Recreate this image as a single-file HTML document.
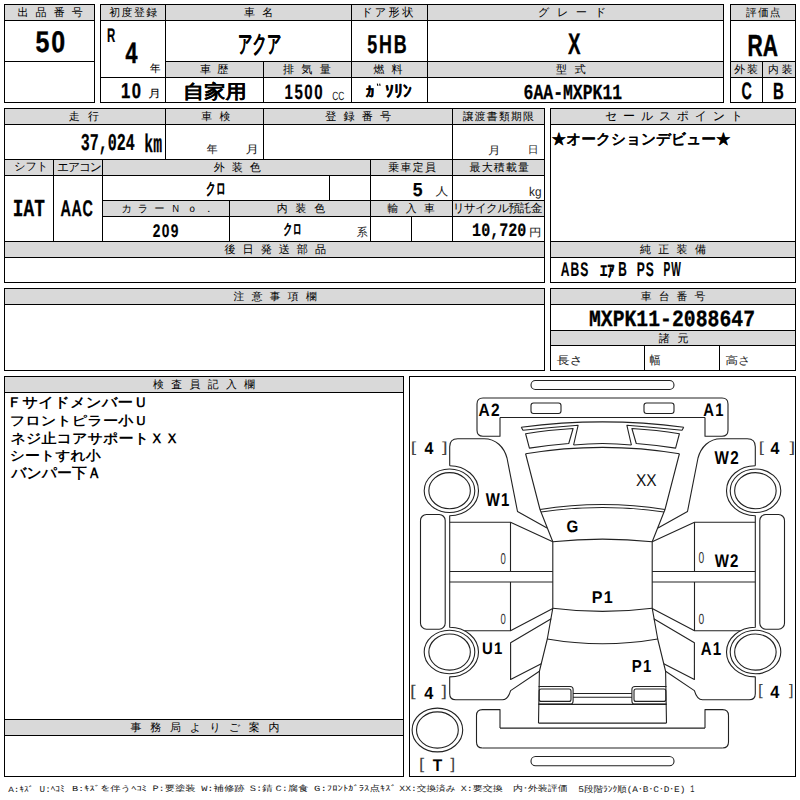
<!DOCTYPE html>
<html><head><meta charset="utf-8"><style>
html,body{margin:0;padding:0;background:#fff;width:800px;height:800px;overflow:hidden}
svg{display:block;font-family:"Liberation Sans",sans-serif}
text{text-rendering:geometricPrecision}
.h{fill:#2a2a2a;font-size:12px}
.b{fill:#000;font-weight:bold}
</style></head><body>
<svg width="800" height="800" viewBox="0 0 800 800">
<g fill="#d9d9d9" shape-rendering="crispEdges"><rect x="5" y="5" width="89" height="15"/><rect x="101" y="5" width="622" height="15"/><rect x="166" y="62" width="557" height="15"/><rect x="731" y="5" width="64" height="15"/><rect x="731" y="62" width="64" height="15"/><rect x="5" y="109" width="539" height="15"/><rect x="5" y="160" width="539" height="15"/><rect x="103" y="201" width="441" height="15"/><rect x="5" y="242" width="539" height="15"/><rect x="551" y="109" width="244" height="15"/><rect x="551" y="242" width="244" height="15"/><rect x="5" y="289" width="539" height="15"/><rect x="551" y="289" width="244" height="15"/><rect x="551" y="331" width="244" height="14"/><rect x="5" y="377" width="398" height="15"/><rect x="5" y="720" width="398" height="15"/></g>
<g fill="#000" shape-rendering="crispEdges"><rect x="4" y="4" width="91" height="1"/><rect x="4" y="102" width="91" height="1"/><rect x="4" y="4" width="1" height="99"/><rect x="94" y="4" width="1" height="99"/><rect x="4" y="20" width="91" height="1"/><rect x="4" y="61" width="91" height="1"/><rect x="100" y="4" width="624" height="1"/><rect x="100" y="102" width="624" height="1"/><rect x="100" y="4" width="1" height="99"/><rect x="723" y="4" width="1" height="99"/><rect x="100" y="20" width="624" height="1"/><rect x="165" y="4" width="1" height="99"/><rect x="351" y="4" width="1" height="99"/><rect x="427" y="4" width="1" height="99"/><rect x="165" y="61" width="559" height="1"/><rect x="100" y="77" width="624" height="1"/><rect x="263" y="61" width="1" height="42"/><rect x="730" y="4" width="66" height="1"/><rect x="730" y="102" width="66" height="1"/><rect x="730" y="4" width="1" height="99"/><rect x="795" y="4" width="1" height="99"/><rect x="730" y="20" width="66" height="1"/><rect x="730" y="61" width="66" height="1"/><rect x="730" y="77" width="66" height="1"/><rect x="762" y="61" width="1" height="42"/><rect x="4" y="108" width="541" height="1"/><rect x="4" y="282" width="541" height="1"/><rect x="4" y="108" width="1" height="175"/><rect x="544" y="108" width="1" height="175"/><rect x="4" y="124" width="541" height="1"/><rect x="165" y="108" width="1" height="52"/><rect x="263" y="108" width="1" height="52"/><rect x="452" y="108" width="1" height="52"/><rect x="4" y="159" width="541" height="1"/><rect x="4" y="175" width="541" height="1"/><rect x="53" y="159" width="1" height="83"/><rect x="102" y="159" width="1" height="83"/><rect x="370" y="159" width="1" height="83"/><rect x="452" y="159" width="1" height="83"/><rect x="102" y="200" width="443" height="1"/><rect x="102" y="216" width="443" height="1"/><rect x="229" y="200" width="1" height="42"/><rect x="329" y="175" width="1" height="26"/><rect x="411" y="216" width="1" height="26"/><rect x="4" y="241" width="541" height="1"/><rect x="4" y="257" width="541" height="1"/><rect x="550" y="108" width="246" height="1"/><rect x="550" y="282" width="246" height="1"/><rect x="550" y="108" width="1" height="175"/><rect x="795" y="108" width="1" height="175"/><rect x="550" y="124" width="246" height="1"/><rect x="550" y="241" width="246" height="1"/><rect x="550" y="257" width="246" height="1"/><rect x="4" y="288" width="541" height="1"/><rect x="4" y="370" width="541" height="1"/><rect x="4" y="288" width="1" height="83"/><rect x="544" y="288" width="1" height="83"/><rect x="4" y="304" width="541" height="1"/><rect x="550" y="288" width="246" height="1"/><rect x="550" y="370" width="246" height="1"/><rect x="550" y="288" width="1" height="83"/><rect x="795" y="288" width="1" height="83"/><rect x="550" y="304" width="246" height="1"/><rect x="550" y="330" width="246" height="1"/><rect x="550" y="345" width="246" height="1"/><rect x="644" y="345" width="1" height="26"/><rect x="719" y="345" width="1" height="26"/><rect x="4" y="376" width="400" height="1"/><rect x="4" y="776" width="400" height="1"/><rect x="4" y="376" width="1" height="401"/><rect x="403" y="376" width="1" height="401"/><rect x="4" y="392" width="400" height="1"/><rect x="4" y="719" width="400" height="1"/><rect x="4" y="735" width="400" height="1"/><rect x="409" y="376" width="387" height="1"/><rect x="409" y="776" width="387" height="1"/><rect x="409" y="376" width="1" height="401"/><rect x="795" y="376" width="1" height="401"/></g>
<g fill="none" stroke="#222" stroke-width="1.1" stroke-linejoin="round"><path d="M483 398 Q477 398 477 404 V430.25 Q477 436.25 483 436.25 H500 V417.5"/><rect x="531" y="403" width="30" height="10.5" rx="2.5"/><path d="M521.25 427.3 L523 430.3 Q550 427.5 578.1 425.3 L573.6 445"/><path d="M525.6 433.75 Q548 430 573.1 428.5 L568.75 443.5 Q548 445 529.4 448.1 Z"/><path d="M449.7 465.7 V446.75 Q449.7 438.75 457.7 438.75 H484 C496 438.75 504 447 507 458 L517.5 511.5 L547 528"/><path d="M449.7 465.7 A28.8 25 0 0 1 449.7 515.7 V627.2 A28.8 24.85 0 0 1 449.7 676.9 V693.7 Q449.7 699.7 455.7 699.7 H502.5 Q508 699.7 510.6 690.6 L539.4 671.25"/><ellipse cx="449.5" cy="490.7" rx="25.3" ry="21.75"/><ellipse cx="449.6" cy="490.7" rx="20.75" ry="18.1"/><ellipse cx="449.5" cy="652.05" rx="25.3" ry="21.75"/><ellipse cx="449.6" cy="652.05" rx="20.75" ry="18.1"/><rect x="420.5" y="514.5" width="24.7" height="114.7" rx="6"/><path d="M525.6 453.75 L540 509.5 L552.8 541.7 V608.2 L547.3 639 L539.4 671.25 L538.5 723.1"/><path d="M449.7 522.2 H510.5 L552.8 541.7"/><path d="M510.5 522.2 V571.5 M510.5 582 V631"/><path d="M449.7 571.5 H552.8 M449.7 582 H552.8"/><path d="M464.5 630.8 H510.5 L552.8 608.4"/><path d="M551.25 618.75 L510.6 642.8 V679.4 L541.25 663.75"/><path d="M500 728.1 V709.6 H482.5 Q476.5 709.6 476.5 715.6 V742 Q476.5 748 482.5 748"/><path d="M538.5 686.5 H570 Q573.1 686.5 573.1 689.5 V701 Q573.1 704.1 570 704.1 H538.5"/><rect x="539.2" y="689" width="31.8" height="12.4" rx="2"/><g transform="translate(1205.0,0) scale(-1,1)"><path d="M483 398 Q477 398 477 404 V430.25 Q477 436.25 483 436.25 H500 V417.5"/><rect x="531" y="403" width="30" height="10.5" rx="2.5"/><path d="M521.25 427.3 L523 430.3 Q550 427.5 578.1 425.3 L573.6 445"/><path d="M525.6 433.75 Q548 430 573.1 428.5 L568.75 443.5 Q548 445 529.4 448.1 Z"/><path d="M449.7 465.7 V446.75 Q449.7 438.75 457.7 438.75 H484 C496 438.75 504 447 507 458 L517.5 511.5 L547 528"/><path d="M449.7 465.7 A28.8 25 0 0 1 449.7 515.7 V627.2 A28.8 24.85 0 0 1 449.7 676.9 V693.7 Q449.7 699.7 455.7 699.7 H502.5 Q508 699.7 510.6 690.6 L539.4 671.25"/><ellipse cx="449.5" cy="490.7" rx="25.3" ry="21.75"/><ellipse cx="449.6" cy="490.7" rx="20.75" ry="18.1"/><ellipse cx="449.5" cy="652.05" rx="25.3" ry="21.75"/><ellipse cx="449.6" cy="652.05" rx="20.75" ry="18.1"/><rect x="420.5" y="514.5" width="24.7" height="114.7" rx="6"/><path d="M525.6 453.75 L540 509.5 L552.8 541.7 V608.2 L547.3 639 L539.4 671.25 L538.5 723.1"/><path d="M449.7 522.2 H510.5 L552.8 541.7"/><path d="M510.5 522.2 V571.5 M510.5 582 V631"/><path d="M449.7 571.5 H552.8 M449.7 582 H552.8"/><path d="M464.5 630.8 H510.5 L552.8 608.4"/><path d="M551.25 618.75 L510.6 642.8 V679.4 L541.25 663.75"/><path d="M500 728.1 V709.6 H482.5 Q476.5 709.6 476.5 715.6 V742 Q476.5 748 482.5 748"/><path d="M538.5 686.5 H570 Q573.1 686.5 573.1 689.5 V701 Q573.1 704.1 570 704.1 H538.5"/><rect x="539.2" y="689" width="31.8" height="12.4" rx="2"/></g><rect x="531" y="380.5" width="143" height="9" rx="4.5"/><rect x="531" y="756.5" width="143" height="9.3" rx="4.6"/><path d="M521.25 427.3 Q602.5 416.5 683.75 427.3"/><path d="M525.6 453.75 Q602.5 440.9 679.4 453.75"/><path d="M540 509.5 Q602.5 499.5 665 509.5"/><path d="M541 512 Q602.5 503 664 512"/><path d="M552.8 541.7 Q602.5 536.6 652.2 541.7"/><path d="M552.8 608.2 Q602.5 614.6 652.2 608.2"/><path d="M547.3 639 Q602.5 648.6 657.7 639"/><ellipse cx="437.4" cy="730" rx="25.3" ry="21.9"/><ellipse cx="437.4" cy="730" rx="20.9" ry="18.1"/><path d="M483 398 H722 M500 417.5 H705 M573.6 445 Q602.5 442 631.4 445 M538.5 723.1 H666.5 M482.5 748 H722.5 M500 728.1 H705 M573.1 693.5 H631.9 M573.1 697.25 H631.9 M538.5 704.4 H666.5"/></g>
<g><path d="M377.3 83.6 L377.9 85.9 M379.6 83.6 L380.1 85.9" stroke="#000" stroke-width="1.1"/><text transform="matrix(0.11033 0 0 0.11033 17.463 16.434)" font-size="100" font-weight="normal" fill="#000" stroke="#000" stroke-width="0.25" vector-effect="non-scaling-stroke" stroke-linejoin="round" font-family="'Liberation Sans',sans-serif">出</text><text transform="matrix(0.11033 0 0 0.11033 35.570 16.434)" font-size="100" font-weight="normal" fill="#000" stroke="#000" stroke-width="0.25" vector-effect="non-scaling-stroke" stroke-linejoin="round" font-family="'Liberation Sans',sans-serif">品</text><text transform="matrix(0.11033 0 0 0.11033 53.677 16.434)" font-size="100" font-weight="normal" fill="#000" stroke="#000" stroke-width="0.25" vector-effect="non-scaling-stroke" stroke-linejoin="round" font-family="'Liberation Sans',sans-serif">番</text><text transform="matrix(0.11033 0 0 0.11033 71.784 16.434)" font-size="100" font-weight="normal" fill="#000" stroke="#000" stroke-width="0.25" vector-effect="non-scaling-stroke" stroke-linejoin="round" font-family="'Liberation Sans',sans-serif">号</text><text transform="matrix(0.25000 0 0 0.30000 35.400 51.850)" font-size="100" font-weight="bold" fill="#000" stroke="#000" stroke-width="1.3" vector-effect="non-scaling-stroke" stroke-linejoin="round" font-family="'Liberation Sans',sans-serif" letter-spacing="8" xml:space="preserve">50</text><text transform="matrix(0.10856 0 0 0.10856 109.208 16.481)" font-size="100" font-weight="normal" fill="#000" stroke="#000" stroke-width="0.25" vector-effect="non-scaling-stroke" stroke-linejoin="round" font-family="'Liberation Sans',sans-serif">初</text><text transform="matrix(0.10856 0 0 0.10856 121.587 16.481)" font-size="100" font-weight="normal" fill="#000" stroke="#000" stroke-width="0.25" vector-effect="non-scaling-stroke" stroke-linejoin="round" font-family="'Liberation Sans',sans-serif">度</text><text transform="matrix(0.10856 0 0 0.10856 133.966 16.481)" font-size="100" font-weight="normal" fill="#000" stroke="#000" stroke-width="0.25" vector-effect="non-scaling-stroke" stroke-linejoin="round" font-family="'Liberation Sans',sans-serif">登</text><text transform="matrix(0.10856 0 0 0.10856 146.345 16.481)" font-size="100" font-weight="normal" fill="#000" stroke="#000" stroke-width="0.25" vector-effect="non-scaling-stroke" stroke-linejoin="round" font-family="'Liberation Sans',sans-serif">録</text><text transform="matrix(0.11429 0 0 0.19565 106.914 42.300)" font-size="100" font-weight="bold" fill="#000" stroke="#000" stroke-width="1.2" vector-effect="non-scaling-stroke" stroke-linejoin="round" font-family="'Liberation Sans',sans-serif" xml:space="preserve">R</text><text transform="matrix(0.21481 0 0 0.29275 125.485 63.100)" font-size="100" font-weight="bold" fill="#000" stroke="#000" stroke-width="1.8" vector-effect="non-scaling-stroke" stroke-linejoin="round" font-family="'Liberation Sans',sans-serif" xml:space="preserve">4</text><text transform="matrix(0.10532 0 0 0.10761 149.889 72.109)" font-size="100" font-weight="normal" fill="#000" stroke="#000" stroke-width="0.6" vector-effect="non-scaling-stroke" stroke-linejoin="round" font-family="'Liberation Sans',sans-serif" xml:space="preserve">年</text><text transform="matrix(0.16606 0 0 0.21268 121.104 97.987)" font-size="100" font-weight="bold" fill="#000" stroke="#000" stroke-width="1.6" vector-effect="non-scaling-stroke" stroke-linejoin="round" font-family="'Liberation Sans',sans-serif" letter-spacing="8" xml:space="preserve">10</text><text transform="matrix(0.12778 0 0 0.10787 148.133 97.406)" font-size="100" font-weight="normal" fill="#000" stroke="#000" stroke-width="0.6" vector-effect="non-scaling-stroke" stroke-linejoin="round" font-family="'Liberation Sans',sans-serif" xml:space="preserve">月</text><text transform="matrix(0.10914 0 0 0.10914 243.907 16.365)" font-size="100" font-weight="normal" fill="#000" stroke="#000" stroke-width="0.25" vector-effect="non-scaling-stroke" stroke-linejoin="round" font-family="'Liberation Sans',sans-serif">車</text><text transform="matrix(0.10914 0 0 0.10914 262.207 16.365)" font-size="100" font-weight="normal" fill="#000" stroke="#000" stroke-width="0.25" vector-effect="non-scaling-stroke" stroke-linejoin="round" font-family="'Liberation Sans',sans-serif">名</text><text transform="matrix(0.14227 0 0 0.24318 237.912 51.545)" font-size="100" font-weight="bold" fill="#000" stroke="#000" stroke-width="1.1" vector-effect="non-scaling-stroke" stroke-linejoin="round" font-family="'Liberation Sans',sans-serif" xml:space="preserve">アクア</text><text transform="matrix(0.11033 0 0 0.11033 199.904 73.461)" font-size="100" font-weight="normal" fill="#000" stroke="#000" stroke-width="0.25" vector-effect="non-scaling-stroke" stroke-linejoin="round" font-family="'Liberation Sans',sans-serif">車</text><text transform="matrix(0.11033 0 0 0.11033 217.284 73.461)" font-size="100" font-weight="normal" fill="#000" stroke="#000" stroke-width="0.25" vector-effect="non-scaling-stroke" stroke-linejoin="round" font-family="'Liberation Sans',sans-serif">歴</text><text transform="matrix(0.21165 0 0 0.18800 183.060 98.330)" font-size="100" font-weight="bold" fill="#000" stroke="#000" stroke-width="0.7" vector-effect="non-scaling-stroke" stroke-linejoin="round" font-family="'Liberation Sans',sans-serif" xml:space="preserve">自家用</text><text transform="matrix(0.11154 0 0 0.11154 283.013 73.392)" font-size="100" font-weight="normal" fill="#000" stroke="#000" stroke-width="0.25" vector-effect="non-scaling-stroke" stroke-linejoin="round" font-family="'Liberation Sans',sans-serif">排</text><text transform="matrix(0.11154 0 0 0.11154 301.340 73.392)" font-size="100" font-weight="normal" fill="#000" stroke="#000" stroke-width="0.25" vector-effect="non-scaling-stroke" stroke-linejoin="round" font-family="'Liberation Sans',sans-serif">気</text><text transform="matrix(0.11154 0 0 0.11154 319.667 73.392)" font-size="100" font-weight="normal" fill="#000" stroke="#000" stroke-width="0.25" vector-effect="non-scaling-stroke" stroke-linejoin="round" font-family="'Liberation Sans',sans-serif">量</text><text transform="matrix(0.15062 0 0 0.20845 284.596 99.292)" font-size="100" font-weight="bold" fill="#000" stroke="#000" stroke-width="1.0" vector-effect="non-scaling-stroke" stroke-linejoin="round" font-family="'Liberation Sans',sans-serif" letter-spacing="10" xml:space="preserve">1500</text><text transform="matrix(0.08370 0 0 0.11972 332.281 100.380)" font-size="100" font-weight="normal" fill="#222" font-family="'Liberation Sans',sans-serif" xml:space="preserve">CC</text><text transform="matrix(0.11278 0 0 0.11278 361.178 16.096)" font-size="100" font-weight="normal" fill="#000" stroke="#000" stroke-width="0.25" vector-effect="non-scaling-stroke" stroke-linejoin="round" font-family="'Liberation Sans',sans-serif">ド</text><text transform="matrix(0.11278 0 0 0.11278 374.839 16.096)" font-size="100" font-weight="normal" fill="#000" stroke="#000" stroke-width="0.25" vector-effect="non-scaling-stroke" stroke-linejoin="round" font-family="'Liberation Sans',sans-serif">ア</text><text transform="matrix(0.11278 0 0 0.11278 388.500 16.096)" font-size="100" font-weight="normal" fill="#000" stroke="#000" stroke-width="0.25" vector-effect="non-scaling-stroke" stroke-linejoin="round" font-family="'Liberation Sans',sans-serif">形</text><text transform="matrix(0.11278 0 0 0.11278 402.161 16.096)" font-size="100" font-weight="normal" fill="#000" stroke="#000" stroke-width="0.25" vector-effect="non-scaling-stroke" stroke-linejoin="round" font-family="'Liberation Sans',sans-serif">状</text><text transform="matrix(0.17911 0 0 0.26000 367.313 52.540)" font-size="100" font-weight="bold" fill="#000" stroke="#000" stroke-width="1.2" vector-effect="non-scaling-stroke" stroke-linejoin="round" font-family="'Liberation Sans',sans-serif" letter-spacing="10" xml:space="preserve">5HB</text><text transform="matrix(0.10914 0 0 0.10914 373.516 73.365)" font-size="100" font-weight="normal" fill="#000" stroke="#000" stroke-width="0.25" vector-effect="non-scaling-stroke" stroke-linejoin="round" font-family="'Liberation Sans',sans-serif">燃</text><text transform="matrix(0.10914 0 0 0.10914 391.398 73.365)" font-size="100" font-weight="normal" fill="#000" stroke="#000" stroke-width="0.25" vector-effect="non-scaling-stroke" stroke-linejoin="round" font-family="'Liberation Sans',sans-serif">料</text><text transform="matrix(0.17857 0 0 0.14634 365.464 97.061)" font-size="100" font-weight="bold" fill="#000" stroke="#000" stroke-width="0.8" vector-effect="non-scaling-stroke" stroke-linejoin="round" font-family="'Liberation Sans',sans-serif" xml:space="preserve">ｶ</text><text transform="matrix(0.17797 0 0 0.17024 385.010 96.579)" font-size="100" font-weight="bold" fill="#000" stroke="#000" stroke-width="0.8" vector-effect="non-scaling-stroke" stroke-linejoin="round" font-family="'Liberation Sans',sans-serif" xml:space="preserve">ｿﾘﾝ</text><text transform="matrix(0.11207 0 0 0.11207 538.004 15.974)" font-size="100" font-weight="normal" fill="#000" stroke="#000" stroke-width="0.25" vector-effect="non-scaling-stroke" stroke-linejoin="round" font-family="'Liberation Sans',sans-serif">グ</text><text transform="matrix(0.11207 0 0 0.11207 556.878 15.974)" font-size="100" font-weight="normal" fill="#000" stroke="#000" stroke-width="0.25" vector-effect="non-scaling-stroke" stroke-linejoin="round" font-family="'Liberation Sans',sans-serif">レ</text><text transform="matrix(0.11207 0 0 0.11207 575.751 15.974)" font-size="100" font-weight="normal" fill="#000" stroke="#000" stroke-width="0.25" vector-effect="non-scaling-stroke" stroke-linejoin="round" font-family="'Liberation Sans',sans-serif">ー</text><text transform="matrix(0.11207 0 0 0.11207 594.625 15.974)" font-size="100" font-weight="normal" fill="#000" stroke="#000" stroke-width="0.25" vector-effect="non-scaling-stroke" stroke-linejoin="round" font-family="'Liberation Sans',sans-serif">ド</text><text transform="matrix(0.18730 0 0 0.29710 568.075 54.150)" font-size="100" font-weight="bold" fill="#000" stroke="#000" stroke-width="1.3" vector-effect="non-scaling-stroke" stroke-linejoin="round" font-family="'Liberation Sans',sans-serif" xml:space="preserve">X</text><text transform="matrix(0.10914 0 0 0.10914 556.016 73.420)" font-size="100" font-weight="normal" fill="#000" stroke="#000" stroke-width="0.25" vector-effect="non-scaling-stroke" stroke-linejoin="round" font-family="'Liberation Sans',sans-serif">型</text><text transform="matrix(0.10914 0 0 0.10914 574.698 73.420)" font-size="100" font-weight="normal" fill="#000" stroke="#000" stroke-width="0.25" vector-effect="non-scaling-stroke" stroke-linejoin="round" font-family="'Liberation Sans',sans-serif">式</text><text transform="matrix(0.16407 0 0 0.21324 523.616 98.587)" font-size="100" font-weight="bold" fill="#000" stroke="#000" stroke-width="1.2" vector-effect="non-scaling-stroke" stroke-linejoin="round" font-family="'Liberation Mono',monospace" xml:space="preserve">6AA-MXPK11</text><text transform="matrix(0.10684 0 0 0.10684 746.018 16.179)" font-size="100" font-weight="normal" fill="#000" stroke="#000" stroke-width="0.25" vector-effect="non-scaling-stroke" stroke-linejoin="round" font-family="'Liberation Sans',sans-serif">評</text><text transform="matrix(0.10684 0 0 0.10684 757.925 16.179)" font-size="100" font-weight="normal" fill="#000" stroke="#000" stroke-width="0.25" vector-effect="non-scaling-stroke" stroke-linejoin="round" font-family="'Liberation Sans',sans-serif">価</text><text transform="matrix(0.10684 0 0 0.10684 769.832 16.179)" font-size="100" font-weight="normal" fill="#000" stroke="#000" stroke-width="0.25" vector-effect="non-scaling-stroke" stroke-linejoin="round" font-family="'Liberation Sans',sans-serif">点</text><text transform="matrix(0.21111 0 0 0.30435 747.583 55.750)" font-size="100" font-weight="bold" fill="#000" stroke="#000" stroke-width="1.5" vector-effect="non-scaling-stroke" stroke-linejoin="round" font-family="'Liberation Sans',sans-serif" xml:space="preserve">RA</text><text transform="matrix(0.10914 0 0 0.10914 734.307 73.365)" font-size="100" font-weight="normal" fill="#000" stroke="#000" stroke-width="0.25" vector-effect="non-scaling-stroke" stroke-linejoin="round" font-family="'Liberation Sans',sans-serif">外</text><text transform="matrix(0.10914 0 0 0.10914 747.116 73.365)" font-size="100" font-weight="normal" fill="#000" stroke="#000" stroke-width="0.25" vector-effect="non-scaling-stroke" stroke-linejoin="round" font-family="'Liberation Sans',sans-serif">装</text><text transform="matrix(0.10741 0 0 0.10741 768.016 73.332)" font-size="100" font-weight="normal" fill="#000" stroke="#000" stroke-width="0.25" vector-effect="non-scaling-stroke" stroke-linejoin="round" font-family="'Liberation Sans',sans-serif">内</text><text transform="matrix(0.10741 0 0 0.10741 781.679 73.332)" font-size="100" font-weight="normal" fill="#000" stroke="#000" stroke-width="0.25" vector-effect="non-scaling-stroke" stroke-linejoin="round" font-family="'Liberation Sans',sans-serif">装</text><text transform="matrix(0.14231 0 0 0.23803 741.381 98.862)" font-size="100" font-weight="bold" fill="#000" stroke="#000" stroke-width="1.4" vector-effect="non-scaling-stroke" stroke-linejoin="round" font-family="'Liberation Sans',sans-serif" xml:space="preserve">C</text><text transform="matrix(0.14919 0 0 0.23333 772.905 98.900)" font-size="100" font-weight="bold" fill="#000" stroke="#000" stroke-width="1.4" vector-effect="non-scaling-stroke" stroke-linejoin="round" font-family="'Liberation Sans',sans-serif" xml:space="preserve">B</text><text transform="matrix(0.10914 0 0 0.10914 68.779 120.311)" font-size="100" font-weight="normal" fill="#000" stroke="#000" stroke-width="0.25" vector-effect="non-scaling-stroke" stroke-linejoin="round" font-family="'Liberation Sans',sans-serif">走</text><text transform="matrix(0.10914 0 0 0.10914 87.988 120.311)" font-size="100" font-weight="normal" fill="#000" stroke="#000" stroke-width="0.25" vector-effect="non-scaling-stroke" stroke-linejoin="round" font-family="'Liberation Sans',sans-serif">行</text><text transform="matrix(0.15000 0 0 0.24118 80.750 150.159)" font-size="100" font-weight="bold" fill="#000" stroke="#000" stroke-width="1.0" vector-effect="non-scaling-stroke" stroke-linejoin="round" font-family="'Liberation Mono',monospace" xml:space="preserve">37,024</text><text transform="matrix(0.14771 0 0 0.25479 144.318 152.100)" font-size="100" font-weight="bold" fill="#000" stroke="#000" stroke-width="1.0" vector-effect="non-scaling-stroke" stroke-linejoin="round" font-family="'Liberation Mono',monospace" xml:space="preserve">km</text><text transform="matrix(0.10798 0 0 0.10798 201.159 120.379)" font-size="100" font-weight="normal" fill="#000" stroke="#000" stroke-width="0.25" vector-effect="non-scaling-stroke" stroke-linejoin="round" font-family="'Liberation Sans',sans-serif">車</text><text transform="matrix(0.10798 0 0 0.10798 219.617 120.379)" font-size="100" font-weight="normal" fill="#000" stroke="#000" stroke-width="0.25" vector-effect="non-scaling-stroke" stroke-linejoin="round" font-family="'Liberation Sans',sans-serif">検</text><text transform="matrix(0.10957 0 0 0.11250 206.831 153.400)" font-size="100" font-weight="normal" fill="#222" stroke="#222" stroke-width="0.3" vector-effect="non-scaling-stroke" stroke-linejoin="round" font-family="'Liberation Sans',sans-serif" xml:space="preserve">年</text><text transform="matrix(0.13472 0 0 0.10899 245.592 153.442)" font-size="100" font-weight="normal" fill="#222" stroke="#222" stroke-width="0.3" vector-effect="non-scaling-stroke" stroke-linejoin="round" font-family="'Liberation Sans',sans-serif" xml:space="preserve">月</text><text transform="matrix(0.11093 0 0 0.11093 325.292 120.399)" font-size="100" font-weight="normal" fill="#000" stroke="#000" stroke-width="0.25" vector-effect="non-scaling-stroke" stroke-linejoin="round" font-family="'Liberation Sans',sans-serif">登</text><text transform="matrix(0.11093 0 0 0.11093 343.503 120.399)" font-size="100" font-weight="normal" fill="#000" stroke="#000" stroke-width="0.25" vector-effect="non-scaling-stroke" stroke-linejoin="round" font-family="'Liberation Sans',sans-serif">録</text><text transform="matrix(0.11093 0 0 0.11093 361.715 120.399)" font-size="100" font-weight="normal" fill="#000" stroke="#000" stroke-width="0.25" vector-effect="non-scaling-stroke" stroke-linejoin="round" font-family="'Liberation Sans',sans-serif">番</text><text transform="matrix(0.11093 0 0 0.11093 379.926 120.399)" font-size="100" font-weight="normal" fill="#000" stroke="#000" stroke-width="0.25" vector-effect="non-scaling-stroke" stroke-linejoin="round" font-family="'Liberation Sans',sans-serif">号</text><text transform="matrix(0.10741 0 0 0.10741 462.718 120.332)" font-size="100" font-weight="normal" fill="#000" stroke="#000" stroke-width="0.25" vector-effect="non-scaling-stroke" stroke-linejoin="round" font-family="'Liberation Sans',sans-serif">譲</text><text transform="matrix(0.10741 0 0 0.10741 474.788 120.332)" font-size="100" font-weight="normal" fill="#000" stroke="#000" stroke-width="0.25" vector-effect="non-scaling-stroke" stroke-linejoin="round" font-family="'Liberation Sans',sans-serif">渡</text><text transform="matrix(0.10741 0 0 0.10741 486.859 120.332)" font-size="100" font-weight="normal" fill="#000" stroke="#000" stroke-width="0.25" vector-effect="non-scaling-stroke" stroke-linejoin="round" font-family="'Liberation Sans',sans-serif">書</text><text transform="matrix(0.10741 0 0 0.10741 498.930 120.332)" font-size="100" font-weight="normal" fill="#000" stroke="#000" stroke-width="0.25" vector-effect="non-scaling-stroke" stroke-linejoin="round" font-family="'Liberation Sans',sans-serif">類</text><text transform="matrix(0.10741 0 0 0.10741 511.001 120.332)" font-size="100" font-weight="normal" fill="#000" stroke="#000" stroke-width="0.25" vector-effect="non-scaling-stroke" stroke-linejoin="round" font-family="'Liberation Sans',sans-serif">期</text><text transform="matrix(0.10741 0 0 0.10741 523.071 120.332)" font-size="100" font-weight="normal" fill="#000" stroke="#000" stroke-width="0.25" vector-effect="non-scaling-stroke" stroke-linejoin="round" font-family="'Liberation Sans',sans-serif">限</text><text transform="matrix(0.12500 0 0 0.10899 488.000 153.542)" font-size="100" font-weight="normal" fill="#222" stroke="#222" stroke-width="0.3" vector-effect="non-scaling-stroke" stroke-linejoin="round" font-family="'Liberation Sans',sans-serif" xml:space="preserve">月</text><text transform="matrix(0.10735 0 0 0.10112 527.840 153.137)" font-size="100" font-weight="normal" fill="#222" stroke="#222" stroke-width="0.3" vector-effect="non-scaling-stroke" stroke-linejoin="round" font-family="'Liberation Sans',sans-serif" xml:space="preserve">日</text><text transform="matrix(0.11169 0 0 0.11169 14.146 170.470)" font-size="100" font-weight="normal" fill="#000" stroke="#000" stroke-width="0.25" vector-effect="non-scaling-stroke" stroke-linejoin="round" font-family="'Liberation Sans',sans-serif">シ</text><text transform="matrix(0.11169 0 0 0.11169 25.392 170.470)" font-size="100" font-weight="normal" fill="#000" stroke="#000" stroke-width="0.25" vector-effect="non-scaling-stroke" stroke-linejoin="round" font-family="'Liberation Sans',sans-serif">フ</text><text transform="matrix(0.11169 0 0 0.11169 36.637 170.470)" font-size="100" font-weight="normal" fill="#000" stroke="#000" stroke-width="0.25" vector-effect="non-scaling-stroke" stroke-linejoin="round" font-family="'Liberation Sans',sans-serif">ト</text><text transform="matrix(0.11898 0 0 0.11898 57.042 170.940)" font-size="100" font-weight="normal" fill="#000" stroke="#000" stroke-width="0.25" vector-effect="non-scaling-stroke" stroke-linejoin="round" font-family="'Liberation Sans',sans-serif">エ</text><text transform="matrix(0.11898 0 0 0.11898 67.971 170.940)" font-size="100" font-weight="normal" fill="#000" stroke="#000" stroke-width="0.25" vector-effect="non-scaling-stroke" stroke-linejoin="round" font-family="'Liberation Sans',sans-serif">ア</text><text transform="matrix(0.11898 0 0 0.11898 78.900 170.940)" font-size="100" font-weight="normal" fill="#000" stroke="#000" stroke-width="0.25" vector-effect="non-scaling-stroke" stroke-linejoin="round" font-family="'Liberation Sans',sans-serif">コ</text><text transform="matrix(0.11898 0 0 0.11898 89.829 170.940)" font-size="100" font-weight="normal" fill="#000" stroke="#000" stroke-width="0.25" vector-effect="non-scaling-stroke" stroke-linejoin="round" font-family="'Liberation Sans',sans-serif">ン</text><text transform="matrix(0.17765 0 0 0.24394 12.856 216.400)" font-size="100" font-weight="bold" fill="#000" stroke="#000" stroke-width="1.4" vector-effect="non-scaling-stroke" stroke-linejoin="round" font-family="'Liberation Mono',monospace" xml:space="preserve">IAT</text><text transform="matrix(0.14381 0 0 0.22535 60.519 216.075)" font-size="100" font-weight="bold" fill="#000" stroke="#000" stroke-width="1.4" vector-effect="non-scaling-stroke" stroke-linejoin="round" font-family="'Liberation Sans',sans-serif" letter-spacing="4" xml:space="preserve">AAC</text><text transform="matrix(0.11033 0 0 0.11033 213.654 171.406)" font-size="100" font-weight="normal" fill="#000" stroke="#000" stroke-width="0.25" vector-effect="non-scaling-stroke" stroke-linejoin="round" font-family="'Liberation Sans',sans-serif">外</text><text transform="matrix(0.11033 0 0 0.11033 231.659 171.406)" font-size="100" font-weight="normal" fill="#000" stroke="#000" stroke-width="0.25" vector-effect="non-scaling-stroke" stroke-linejoin="round" font-family="'Liberation Sans',sans-serif">装</text><text transform="matrix(0.11033 0 0 0.11033 249.663 171.406)" font-size="100" font-weight="normal" fill="#000" stroke="#000" stroke-width="0.25" vector-effect="non-scaling-stroke" stroke-linejoin="round" font-family="'Liberation Sans',sans-serif">色</text><text transform="matrix(0.09633 0 0 0.16180 206.029 193.685)" font-size="100" font-weight="bold" fill="#000" stroke="#000" stroke-width="1.1" vector-effect="non-scaling-stroke" stroke-linejoin="round" font-family="'Liberation Sans',sans-serif" xml:space="preserve">クロ</text><text transform="matrix(0.10798 0 0 0.10798 388.293 171.379)" font-size="100" font-weight="normal" fill="#000" stroke="#000" stroke-width="0.25" vector-effect="non-scaling-stroke" stroke-linejoin="round" font-family="'Liberation Sans',sans-serif">乗</text><text transform="matrix(0.10798 0 0 0.10798 400.529 171.379)" font-size="100" font-weight="normal" fill="#000" stroke="#000" stroke-width="0.25" vector-effect="non-scaling-stroke" stroke-linejoin="round" font-family="'Liberation Sans',sans-serif">車</text><text transform="matrix(0.10798 0 0 0.10798 412.765 171.379)" font-size="100" font-weight="normal" fill="#000" stroke="#000" stroke-width="0.25" vector-effect="non-scaling-stroke" stroke-linejoin="round" font-family="'Liberation Sans',sans-serif">定</text><text transform="matrix(0.10798 0 0 0.10798 425.001 171.379)" font-size="100" font-weight="normal" fill="#000" stroke="#000" stroke-width="0.25" vector-effect="non-scaling-stroke" stroke-linejoin="round" font-family="'Liberation Sans',sans-serif">員</text><text transform="matrix(0.17600 0 0 0.18857 412.672 195.511)" font-size="100" font-weight="bold" fill="#000" stroke="#000" stroke-width="1.0" vector-effect="non-scaling-stroke" stroke-linejoin="round" font-family="'Liberation Sans',sans-serif" xml:space="preserve">5</text><text transform="matrix(0.12688 0 0 0.11277 435.496 195.459)" font-size="100" font-weight="normal" fill="#222" stroke="#222" stroke-width="0.3" vector-effect="non-scaling-stroke" stroke-linejoin="round" font-family="'Liberation Sans',sans-serif" xml:space="preserve">人</text><text transform="matrix(0.10914 0 0 0.10914 469.507 171.420)" font-size="100" font-weight="normal" fill="#000" stroke="#000" stroke-width="0.25" vector-effect="non-scaling-stroke" stroke-linejoin="round" font-family="'Liberation Sans',sans-serif">最</text><text transform="matrix(0.10914 0 0 0.10914 481.629 171.420)" font-size="100" font-weight="normal" fill="#000" stroke="#000" stroke-width="0.25" vector-effect="non-scaling-stroke" stroke-linejoin="round" font-family="'Liberation Sans',sans-serif">大</text><text transform="matrix(0.10914 0 0 0.10914 493.752 171.420)" font-size="100" font-weight="normal" fill="#000" stroke="#000" stroke-width="0.25" vector-effect="non-scaling-stroke" stroke-linejoin="round" font-family="'Liberation Sans',sans-serif">積</text><text transform="matrix(0.10914 0 0 0.10914 505.875 171.420)" font-size="100" font-weight="normal" fill="#000" stroke="#000" stroke-width="0.25" vector-effect="non-scaling-stroke" stroke-linejoin="round" font-family="'Liberation Sans',sans-serif">載</text><text transform="matrix(0.10914 0 0 0.10914 517.998 171.420)" font-size="100" font-weight="normal" fill="#000" stroke="#000" stroke-width="0.25" vector-effect="non-scaling-stroke" stroke-linejoin="round" font-family="'Liberation Sans',sans-serif">量</text><text transform="matrix(0.11828 0 0 0.12766 528.990 195.719)" font-size="100" font-weight="normal" fill="#222" font-family="'Liberation Sans',sans-serif" xml:space="preserve">kg</text><text transform="matrix(0.10309 0 0 0.10309 121.394 212.444)" font-size="100" font-weight="normal" fill="#000" stroke="#000" stroke-width="0.25" vector-effect="non-scaling-stroke" stroke-linejoin="round" font-family="'Liberation Sans',sans-serif">カ</text><text transform="matrix(0.10309 0 0 0.10309 137.796 212.444)" font-size="100" font-weight="normal" fill="#000" stroke="#000" stroke-width="0.25" vector-effect="non-scaling-stroke" stroke-linejoin="round" font-family="'Liberation Sans',sans-serif">ラ</text><text transform="matrix(0.10309 0 0 0.10309 154.197 212.444)" font-size="100" font-weight="normal" fill="#000" stroke="#000" stroke-width="0.25" vector-effect="non-scaling-stroke" stroke-linejoin="round" font-family="'Liberation Sans',sans-serif">ー</text><text transform="matrix(0.10309 0 0 0.10309 170.599 212.444)" font-size="100" font-weight="normal" fill="#000" stroke="#000" stroke-width="0.25" vector-effect="non-scaling-stroke" stroke-linejoin="round" font-family="'Liberation Sans',sans-serif">Ｎ</text><text transform="matrix(0.10309 0 0 0.10309 187.001 212.444)" font-size="100" font-weight="normal" fill="#000" stroke="#000" stroke-width="0.25" vector-effect="non-scaling-stroke" stroke-linejoin="round" font-family="'Liberation Sans',sans-serif">ｏ</text><text transform="matrix(0.10309 0 0 0.10309 203.402 212.444)" font-size="100" font-weight="normal" fill="#000" stroke="#000" stroke-width="0.25" vector-effect="non-scaling-stroke" stroke-linejoin="round" font-family="'Liberation Sans',sans-serif">．</text><text transform="matrix(0.13722 0 0 0.18169 152.788 237.218)" font-size="100" font-weight="bold" fill="#000" stroke="#000" stroke-width="1.0" vector-effect="non-scaling-stroke" stroke-linejoin="round" font-family="'Liberation Sans',sans-serif" letter-spacing="10" xml:space="preserve">209</text><text transform="matrix(0.10798 0 0 0.10798 276.761 212.325)" font-size="100" font-weight="normal" fill="#000" stroke="#000" stroke-width="0.25" vector-effect="non-scaling-stroke" stroke-linejoin="round" font-family="'Liberation Sans',sans-serif">内</text><text transform="matrix(0.10798 0 0 0.10798 295.527 212.325)" font-size="100" font-weight="normal" fill="#000" stroke="#000" stroke-width="0.25" vector-effect="non-scaling-stroke" stroke-linejoin="round" font-family="'Liberation Sans',sans-serif">装</text><text transform="matrix(0.10798 0 0 0.10798 314.293 212.325)" font-size="100" font-weight="normal" fill="#000" stroke="#000" stroke-width="0.25" vector-effect="non-scaling-stroke" stroke-linejoin="round" font-family="'Liberation Sans',sans-serif">色</text><text transform="matrix(0.08898 0 0 0.14944 283.588 234.258)" font-size="100" font-weight="bold" fill="#000" stroke="#000" stroke-width="1.1" vector-effect="non-scaling-stroke" stroke-linejoin="round" font-family="'Liberation Sans',sans-serif" xml:space="preserve">クロ</text><text transform="matrix(0.10957 0 0 0.11354 356.721 236.474)" font-size="100" font-weight="normal" fill="#222" stroke="#222" stroke-width="0.3" vector-effect="non-scaling-stroke" stroke-linejoin="round" font-family="'Liberation Sans',sans-serif" xml:space="preserve">系</text><text transform="matrix(0.10798 0 0 0.10798 387.409 212.325)" font-size="100" font-weight="normal" fill="#000" stroke="#000" stroke-width="0.25" vector-effect="non-scaling-stroke" stroke-linejoin="round" font-family="'Liberation Sans',sans-serif">輸</text><text transform="matrix(0.10798 0 0 0.10798 405.734 212.325)" font-size="100" font-weight="normal" fill="#000" stroke="#000" stroke-width="0.25" vector-effect="non-scaling-stroke" stroke-linejoin="round" font-family="'Liberation Sans',sans-serif">入</text><text transform="matrix(0.10798 0 0 0.10798 424.059 212.325)" font-size="100" font-weight="normal" fill="#000" stroke="#000" stroke-width="0.25" vector-effect="non-scaling-stroke" stroke-linejoin="round" font-family="'Liberation Sans',sans-serif">車</text><text transform="matrix(0.11734 0 0 0.11734 452.726 212.179)" font-size="100" font-weight="normal" fill="#000" stroke="#000" stroke-width="0.25" vector-effect="non-scaling-stroke" stroke-linejoin="round" font-family="'Liberation Sans',sans-serif">リ</text><text transform="matrix(0.11734 0 0 0.11734 463.857 212.179)" font-size="100" font-weight="normal" fill="#000" stroke="#000" stroke-width="0.25" vector-effect="non-scaling-stroke" stroke-linejoin="round" font-family="'Liberation Sans',sans-serif">サ</text><text transform="matrix(0.11734 0 0 0.11734 474.989 212.179)" font-size="100" font-weight="normal" fill="#000" stroke="#000" stroke-width="0.25" vector-effect="non-scaling-stroke" stroke-linejoin="round" font-family="'Liberation Sans',sans-serif">イ</text><text transform="matrix(0.11734 0 0 0.11734 486.120 212.179)" font-size="100" font-weight="normal" fill="#000" stroke="#000" stroke-width="0.25" vector-effect="non-scaling-stroke" stroke-linejoin="round" font-family="'Liberation Sans',sans-serif">ク</text><text transform="matrix(0.11734 0 0 0.11734 497.251 212.179)" font-size="100" font-weight="normal" fill="#000" stroke="#000" stroke-width="0.25" vector-effect="non-scaling-stroke" stroke-linejoin="round" font-family="'Liberation Sans',sans-serif">ル</text><text transform="matrix(0.11734 0 0 0.11734 508.382 212.179)" font-size="100" font-weight="normal" fill="#000" stroke="#000" stroke-width="0.25" vector-effect="non-scaling-stroke" stroke-linejoin="round" font-family="'Liberation Sans',sans-serif">預</text><text transform="matrix(0.11734 0 0 0.11734 519.514 212.179)" font-size="100" font-weight="normal" fill="#000" stroke="#000" stroke-width="0.25" vector-effect="non-scaling-stroke" stroke-linejoin="round" font-family="'Liberation Sans',sans-serif">託</text><text transform="matrix(0.11734 0 0 0.11734 530.645 212.179)" font-size="100" font-weight="normal" fill="#000" stroke="#000" stroke-width="0.25" vector-effect="non-scaling-stroke" stroke-linejoin="round" font-family="'Liberation Sans',sans-serif">金</text><text transform="matrix(0.15086 0 0 0.18824 472.095 235.612)" font-size="100" font-weight="bold" fill="#000" stroke="#000" stroke-width="1.0" vector-effect="non-scaling-stroke" stroke-linejoin="round" font-family="'Liberation Mono',monospace" xml:space="preserve">10,720</text><text transform="matrix(0.12532 0 0 0.10778 528.897 235.949)" font-size="100" font-weight="normal" fill="#222" stroke="#222" stroke-width="0.3" vector-effect="non-scaling-stroke" stroke-linejoin="round" font-family="'Liberation Sans',sans-serif" xml:space="preserve">円</text><text transform="matrix(0.11093 0 0 0.11093 224.503 253.372)" font-size="100" font-weight="normal" fill="#000" stroke="#000" stroke-width="0.25" vector-effect="non-scaling-stroke" stroke-linejoin="round" font-family="'Liberation Sans',sans-serif">後</text><text transform="matrix(0.11093 0 0 0.11093 242.594 253.372)" font-size="100" font-weight="normal" fill="#000" stroke="#000" stroke-width="0.25" vector-effect="non-scaling-stroke" stroke-linejoin="round" font-family="'Liberation Sans',sans-serif">日</text><text transform="matrix(0.11093 0 0 0.11093 260.685 253.372)" font-size="100" font-weight="normal" fill="#000" stroke="#000" stroke-width="0.25" vector-effect="non-scaling-stroke" stroke-linejoin="round" font-family="'Liberation Sans',sans-serif">発</text><text transform="matrix(0.11093 0 0 0.11093 278.776 253.372)" font-size="100" font-weight="normal" fill="#000" stroke="#000" stroke-width="0.25" vector-effect="non-scaling-stroke" stroke-linejoin="round" font-family="'Liberation Sans',sans-serif">送</text><text transform="matrix(0.11093 0 0 0.11093 296.868 253.372)" font-size="100" font-weight="normal" fill="#000" stroke="#000" stroke-width="0.25" vector-effect="non-scaling-stroke" stroke-linejoin="round" font-family="'Liberation Sans',sans-serif">部</text><text transform="matrix(0.11093 0 0 0.11093 314.959 253.372)" font-size="100" font-weight="normal" fill="#000" stroke="#000" stroke-width="0.25" vector-effect="non-scaling-stroke" stroke-linejoin="round" font-family="'Liberation Sans',sans-serif">品</text><text transform="matrix(0.12025 0 0 0.12025 605.003 120.233)" font-size="100" font-weight="normal" fill="#000" stroke="#000" stroke-width="0.25" vector-effect="non-scaling-stroke" stroke-linejoin="round" font-family="'Liberation Sans',sans-serif">セ</text><text transform="matrix(0.12025 0 0 0.12025 622.965 120.233)" font-size="100" font-weight="normal" fill="#000" stroke="#000" stroke-width="0.25" vector-effect="non-scaling-stroke" stroke-linejoin="round" font-family="'Liberation Sans',sans-serif">ー</text><text transform="matrix(0.12025 0 0 0.12025 640.927 120.233)" font-size="100" font-weight="normal" fill="#000" stroke="#000" stroke-width="0.25" vector-effect="non-scaling-stroke" stroke-linejoin="round" font-family="'Liberation Sans',sans-serif">ル</text><text transform="matrix(0.12025 0 0 0.12025 658.889 120.233)" font-size="100" font-weight="normal" fill="#000" stroke="#000" stroke-width="0.25" vector-effect="non-scaling-stroke" stroke-linejoin="round" font-family="'Liberation Sans',sans-serif">ス</text><text transform="matrix(0.12025 0 0 0.12025 676.850 120.233)" font-size="100" font-weight="normal" fill="#000" stroke="#000" stroke-width="0.25" vector-effect="non-scaling-stroke" stroke-linejoin="round" font-family="'Liberation Sans',sans-serif">ポ</text><text transform="matrix(0.12025 0 0 0.12025 694.812 120.233)" font-size="100" font-weight="normal" fill="#000" stroke="#000" stroke-width="0.25" vector-effect="non-scaling-stroke" stroke-linejoin="round" font-family="'Liberation Sans',sans-serif">イ</text><text transform="matrix(0.12025 0 0 0.12025 712.774 120.233)" font-size="100" font-weight="normal" fill="#000" stroke="#000" stroke-width="0.25" vector-effect="non-scaling-stroke" stroke-linejoin="round" font-family="'Liberation Sans',sans-serif">ン</text><text transform="matrix(0.12025 0 0 0.12025 730.736 120.233)" font-size="100" font-weight="normal" fill="#000" stroke="#000" stroke-width="0.25" vector-effect="non-scaling-stroke" stroke-linejoin="round" font-family="'Liberation Sans',sans-serif">ト</text><text transform="matrix(0.14699 0 0 0.14778 551.462 143.777)" font-size="100" font-weight="bold" fill="#000" stroke="#000" stroke-width="0.3" vector-effect="non-scaling-stroke" stroke-linejoin="round" font-family="'Liberation Sans',sans-serif" xml:space="preserve">★オークションデビュー★</text><text transform="matrix(0.10914 0 0 0.10914 640.016 253.393)" font-size="100" font-weight="normal" fill="#000" stroke="#000" stroke-width="0.25" vector-effect="non-scaling-stroke" stroke-linejoin="round" font-family="'Liberation Sans',sans-serif">純</text><text transform="matrix(0.10914 0 0 0.10914 658.307 253.393)" font-size="100" font-weight="normal" fill="#000" stroke="#000" stroke-width="0.25" vector-effect="non-scaling-stroke" stroke-linejoin="round" font-family="'Liberation Sans',sans-serif">正</text><text transform="matrix(0.10914 0 0 0.10914 676.598 253.393)" font-size="100" font-weight="normal" fill="#000" stroke="#000" stroke-width="0.25" vector-effect="non-scaling-stroke" stroke-linejoin="round" font-family="'Liberation Sans',sans-serif">装</text><text transform="matrix(0.10914 0 0 0.10914 694.888 253.393)" font-size="100" font-weight="normal" fill="#000" stroke="#000" stroke-width="0.25" vector-effect="non-scaling-stroke" stroke-linejoin="round" font-family="'Liberation Sans',sans-serif">備</text><text transform="matrix(0.12114 0 0 0.19718 560.787 276.153)" font-size="100" font-weight="bold" fill="#000" stroke="#000" stroke-width="0.9" vector-effect="non-scaling-stroke" stroke-linejoin="round" font-family="'Liberation Sans',sans-serif" letter-spacing="8" xml:space="preserve">ABS</text><text transform="matrix(0.14842 0 0 0.17368 599.903 276.632)" font-size="100" font-weight="bold" fill="#000" stroke="#000" stroke-width="0.4" vector-effect="non-scaling-stroke" stroke-linejoin="round" font-family="'Liberation Sans',sans-serif" xml:space="preserve">ｴｱ</text><text transform="matrix(0.11774 0 0 0.20290 618.144 276.350)" font-size="100" font-weight="bold" fill="#000" stroke="#000" stroke-width="0.9" vector-effect="non-scaling-stroke" stroke-linejoin="round" font-family="'Liberation Sans',sans-serif" xml:space="preserve">B</text><text transform="matrix(0.11970 0 0 0.19718 636.732 276.153)" font-size="100" font-weight="bold" fill="#000" stroke="#000" stroke-width="0.9" vector-effect="non-scaling-stroke" stroke-linejoin="round" font-family="'Liberation Sans',sans-serif" letter-spacing="8" xml:space="preserve">PS</text><text transform="matrix(0.10184 0 0 0.20290 663.589 276.350)" font-size="100" font-weight="bold" fill="#000" stroke="#000" stroke-width="0.9" vector-effect="non-scaling-stroke" stroke-linejoin="round" font-family="'Liberation Sans',sans-serif" letter-spacing="8" xml:space="preserve">PW</text><text transform="matrix(0.10684 0 0 0.10684 233.554 300.286)" font-size="100" font-weight="normal" fill="#000" stroke="#000" stroke-width="0.25" vector-effect="non-scaling-stroke" stroke-linejoin="round" font-family="'Liberation Sans',sans-serif">注</text><text transform="matrix(0.10684 0 0 0.10684 251.645 300.286)" font-size="100" font-weight="normal" fill="#000" stroke="#000" stroke-width="0.25" vector-effect="non-scaling-stroke" stroke-linejoin="round" font-family="'Liberation Sans',sans-serif">意</text><text transform="matrix(0.10684 0 0 0.10684 269.736 300.286)" font-size="100" font-weight="normal" fill="#000" stroke="#000" stroke-width="0.25" vector-effect="non-scaling-stroke" stroke-linejoin="round" font-family="'Liberation Sans',sans-serif">事</text><text transform="matrix(0.10684 0 0 0.10684 287.827 300.286)" font-size="100" font-weight="normal" fill="#000" stroke="#000" stroke-width="0.25" vector-effect="non-scaling-stroke" stroke-linejoin="round" font-family="'Liberation Sans',sans-serif">項</text><text transform="matrix(0.10684 0 0 0.10684 305.918 300.286)" font-size="100" font-weight="normal" fill="#000" stroke="#000" stroke-width="0.25" vector-effect="non-scaling-stroke" stroke-linejoin="round" font-family="'Liberation Sans',sans-serif">欄</text><text transform="matrix(0.10798 0 0 0.10798 640.709 300.379)" font-size="100" font-weight="normal" fill="#000" stroke="#000" stroke-width="0.25" vector-effect="non-scaling-stroke" stroke-linejoin="round" font-family="'Liberation Sans',sans-serif">車</text><text transform="matrix(0.10798 0 0 0.10798 658.642 300.379)" font-size="100" font-weight="normal" fill="#000" stroke="#000" stroke-width="0.25" vector-effect="non-scaling-stroke" stroke-linejoin="round" font-family="'Liberation Sans',sans-serif">台</text><text transform="matrix(0.10798 0 0 0.10798 676.576 300.379)" font-size="100" font-weight="normal" fill="#000" stroke="#000" stroke-width="0.25" vector-effect="non-scaling-stroke" stroke-linejoin="round" font-family="'Liberation Sans',sans-serif">番</text><text transform="matrix(0.10798 0 0 0.10798 694.509 300.379)" font-size="100" font-weight="normal" fill="#000" stroke="#000" stroke-width="0.25" vector-effect="non-scaling-stroke" stroke-linejoin="round" font-family="'Liberation Sans',sans-serif">号</text><text transform="matrix(0.19771 0 0 0.23382 588.909 325.766)" font-size="100" font-weight="bold" fill="#000" stroke="#000" stroke-width="1.4" vector-effect="non-scaling-stroke" stroke-linejoin="round" font-family="'Liberation Mono',monospace" xml:space="preserve">MXPK11-2088647</text><text transform="matrix(0.11033 0 0 0.11033 658.815 342.351)" font-size="100" font-weight="normal" fill="#000" stroke="#000" stroke-width="0.25" vector-effect="non-scaling-stroke" stroke-linejoin="round" font-family="'Liberation Sans',sans-serif">諸</text><text transform="matrix(0.11033 0 0 0.11033 677.394 342.351)" font-size="100" font-weight="normal" fill="#000" stroke="#000" stroke-width="0.25" vector-effect="non-scaling-stroke" stroke-linejoin="round" font-family="'Liberation Sans',sans-serif">元</text><text transform="matrix(0.12881 0 0 0.10968 556.792 363.565)" font-size="100" font-weight="normal" fill="#222" stroke="#222" stroke-width="0.3" vector-effect="non-scaling-stroke" stroke-linejoin="round" font-family="'Liberation Sans',sans-serif" xml:space="preserve">長さ</text><text transform="matrix(0.11154 0 0 0.11774 649.565 364.319)" font-size="100" font-weight="normal" fill="#222" stroke="#222" stroke-width="0.3" vector-effect="non-scaling-stroke" stroke-linejoin="round" font-family="'Liberation Sans',sans-serif" xml:space="preserve">幅</text><text transform="matrix(0.12543 0 0 0.10663 725.398 363.857)" font-size="100" font-weight="normal" fill="#222" stroke="#222" stroke-width="0.3" vector-effect="non-scaling-stroke" stroke-linejoin="round" font-family="'Liberation Sans',sans-serif" xml:space="preserve">高さ</text><text transform="matrix(0.10798 0 0 0.10798 153.017 388.352)" font-size="100" font-weight="normal" fill="#000" stroke="#000" stroke-width="0.25" vector-effect="non-scaling-stroke" stroke-linejoin="round" font-family="'Liberation Sans',sans-serif">検</text><text transform="matrix(0.10798 0 0 0.10798 171.235 388.352)" font-size="100" font-weight="normal" fill="#000" stroke="#000" stroke-width="0.25" vector-effect="non-scaling-stroke" stroke-linejoin="round" font-family="'Liberation Sans',sans-serif">査</text><text transform="matrix(0.10798 0 0 0.10798 189.454 388.352)" font-size="100" font-weight="normal" fill="#000" stroke="#000" stroke-width="0.25" vector-effect="non-scaling-stroke" stroke-linejoin="round" font-family="'Liberation Sans',sans-serif">員</text><text transform="matrix(0.10798 0 0 0.10798 207.672 388.352)" font-size="100" font-weight="normal" fill="#000" stroke="#000" stroke-width="0.25" vector-effect="non-scaling-stroke" stroke-linejoin="round" font-family="'Liberation Sans',sans-serif">記</text><text transform="matrix(0.10798 0 0 0.10798 225.891 388.352)" font-size="100" font-weight="normal" fill="#000" stroke="#000" stroke-width="0.25" vector-effect="non-scaling-stroke" stroke-linejoin="round" font-family="'Liberation Sans',sans-serif">入</text><text transform="matrix(0.10798 0 0 0.10798 244.109 388.352)" font-size="100" font-weight="normal" fill="#000" stroke="#000" stroke-width="0.25" vector-effect="non-scaling-stroke" stroke-linejoin="round" font-family="'Liberation Sans',sans-serif">欄</text><text transform="matrix(0.15504 0 0 0.13778 6.814 406.833)" font-size="100" font-weight="bold" fill="#000" font-family="'Liberation Sans',sans-serif" xml:space="preserve">ＦサイドメンバーＵ</text><text transform="matrix(0.15187 0 0 0.12653 9.633 425.129)" font-size="100" font-weight="bold" fill="#000" font-family="'Liberation Sans',sans-serif" xml:space="preserve">フロントピラー小Ｕ</text><text transform="matrix(0.15151 0 0 0.13636 10.394 442.955)" font-size="100" font-weight="bold" fill="#000" font-family="'Liberation Sans',sans-serif" xml:space="preserve">ネジ止コアサポートＸＸ</text><text transform="matrix(0.14942 0 0 0.13204 9.655 460.491)" font-size="100" font-weight="bold" fill="#000" font-family="'Liberation Sans',sans-serif" xml:space="preserve">シートすれ小</text><text transform="matrix(0.14898 0 0 0.14835 11.298 477.723)" font-size="100" font-weight="bold" fill="#000" font-family="'Liberation Sans',sans-serif" xml:space="preserve">バンパー下Ａ</text><text transform="matrix(0.10914 0 0 0.10914 130.507 731.311)" font-size="100" font-weight="normal" fill="#000" stroke="#000" stroke-width="0.25" vector-effect="non-scaling-stroke" stroke-linejoin="round" font-family="'Liberation Sans',sans-serif">事</text><text transform="matrix(0.10914 0 0 0.10914 150.228 731.311)" font-size="100" font-weight="normal" fill="#000" stroke="#000" stroke-width="0.25" vector-effect="non-scaling-stroke" stroke-linejoin="round" font-family="'Liberation Sans',sans-serif">務</text><text transform="matrix(0.10914 0 0 0.10914 169.948 731.311)" font-size="100" font-weight="normal" fill="#000" stroke="#000" stroke-width="0.25" vector-effect="non-scaling-stroke" stroke-linejoin="round" font-family="'Liberation Sans',sans-serif">局</text><text transform="matrix(0.10914 0 0 0.10914 189.669 731.311)" font-size="100" font-weight="normal" fill="#000" stroke="#000" stroke-width="0.25" vector-effect="non-scaling-stroke" stroke-linejoin="round" font-family="'Liberation Sans',sans-serif">よ</text><text transform="matrix(0.10914 0 0 0.10914 209.390 731.311)" font-size="100" font-weight="normal" fill="#000" stroke="#000" stroke-width="0.25" vector-effect="non-scaling-stroke" stroke-linejoin="round" font-family="'Liberation Sans',sans-serif">り</text><text transform="matrix(0.10914 0 0 0.10914 229.111 731.311)" font-size="100" font-weight="normal" fill="#000" stroke="#000" stroke-width="0.25" vector-effect="non-scaling-stroke" stroke-linejoin="round" font-family="'Liberation Sans',sans-serif">ご</text><text transform="matrix(0.10914 0 0 0.10914 248.832 731.311)" font-size="100" font-weight="normal" fill="#000" stroke="#000" stroke-width="0.25" vector-effect="non-scaling-stroke" stroke-linejoin="round" font-family="'Liberation Sans',sans-serif">案</text><text transform="matrix(0.10914 0 0 0.10914 268.552 731.311)" font-size="100" font-weight="normal" fill="#000" stroke="#000" stroke-width="0.25" vector-effect="non-scaling-stroke" stroke-linejoin="round" font-family="'Liberation Sans',sans-serif">内</text><text transform="matrix(0.09335 0 0 0.08081 8.225 791.552)" font-size="100" font-weight="normal" fill="#222" stroke="#222" stroke-width="0.25" vector-effect="non-scaling-stroke" stroke-linejoin="round" font-family="'Liberation Mono',monospace" xml:space="preserve">A:ｷｽﾞ</text><text transform="matrix(0.09277 0 0 0.09145 39.568 791.784)" font-size="100" font-weight="normal" fill="#222" stroke="#222" stroke-width="0.25" vector-effect="non-scaling-stroke" stroke-linejoin="round" font-family="'Liberation Mono',monospace" xml:space="preserve">U:ﾍｺﾐ</text><text transform="matrix(0.10361 0 0 0.07602 71.900 791.083)" font-size="100" font-weight="normal" fill="#222" stroke="#222" stroke-width="0.25" vector-effect="non-scaling-stroke" stroke-linejoin="round" font-family="'Liberation Mono',monospace" xml:space="preserve">B:ｷｽﾞを伴うﾍｺﾐ</text><text transform="matrix(0.10258 0 0 0.08245 152.407 791.386)" font-size="100" font-weight="normal" fill="#222" stroke="#222" stroke-width="0.25" vector-effect="non-scaling-stroke" stroke-linejoin="round" font-family="'Liberation Mono',monospace" xml:space="preserve">P:要塗装</text><text transform="matrix(0.10372 0 0 0.07990 201.125 791.177)" font-size="100" font-weight="normal" fill="#222" stroke="#222" stroke-width="0.25" vector-effect="non-scaling-stroke" stroke-linejoin="round" font-family="'Liberation Mono',monospace" xml:space="preserve">W:補修跡</text><text transform="matrix(0.10446 0 0 0.08424 249.707 791.364)" font-size="100" font-weight="normal" fill="#222" stroke="#222" stroke-width="0.25" vector-effect="non-scaling-stroke" stroke-linejoin="round" font-family="'Liberation Mono',monospace" xml:space="preserve">S:錆</text><text transform="matrix(0.10275 0 0 0.08158 275.611 791.396)" font-size="100" font-weight="normal" fill="#222" stroke="#222" stroke-width="0.25" vector-effect="non-scaling-stroke" stroke-linejoin="round" font-family="'Liberation Mono',monospace" xml:space="preserve">C:腐食</text><text transform="matrix(0.10633 0 0 0.07990 314.093 791.177)" font-size="100" font-weight="normal" fill="#222" stroke="#222" stroke-width="0.25" vector-effect="non-scaling-stroke" stroke-linejoin="round" font-family="'Liberation Mono',monospace" xml:space="preserve">G:ﾌﾛﾝﾄｶﾞﾗｽ点ｷｽﾞ</text><text transform="matrix(0.09659 0 0 0.07828 399.335 791.201)" font-size="100" font-weight="normal" fill="#222" stroke="#222" stroke-width="0.25" vector-effect="non-scaling-stroke" stroke-linejoin="round" font-family="'Liberation Mono',monospace" xml:space="preserve">XX:交換済み</text><text transform="matrix(0.10012 0 0 0.07828 460.825 791.122)" font-size="100" font-weight="normal" fill="#222" stroke="#222" stroke-width="0.25" vector-effect="non-scaling-stroke" stroke-linejoin="round" font-family="'Liberation Mono',monospace" xml:space="preserve">X:要交換</text><text transform="matrix(0.09907 0 0 0.08158 513.082 791.314)" font-size="100" font-weight="normal" fill="#222" stroke="#222" stroke-width="0.25" vector-effect="non-scaling-stroke" stroke-linejoin="round" font-family="'Liberation Mono',monospace" xml:space="preserve">内･外装評価</text><text transform="matrix(0.09494 0 0 0.08578 578.210 791.574)" font-size="100" font-weight="normal" fill="#222" stroke="#222" stroke-width="0.25" vector-effect="non-scaling-stroke" stroke-linejoin="round" font-family="'Liberation Mono',monospace" xml:space="preserve">5段階ﾗﾝｸ順(A･B･C･D･E)</text><text transform="matrix(0.06979 0 0 0.10152 690.236 791.725)" font-size="100" font-weight="normal" fill="#222" stroke="#222" stroke-width="0.25" vector-effect="non-scaling-stroke" stroke-linejoin="round" font-family="'Liberation Mono',monospace" xml:space="preserve">1</text><text transform="matrix(0.15504 0 0 0.17857 478.535 415.600)" font-size="100" font-weight="bold" fill="#000" font-family="'Liberation Sans',sans-serif" letter-spacing="8" xml:space="preserve">A2</text><text transform="matrix(0.14885 0 0 0.18261 703.303 415.600)" font-size="100" font-weight="bold" fill="#000" font-family="'Liberation Sans',sans-serif" letter-spacing="8" xml:space="preserve">A1</text><text transform="matrix(0.19500 0 0 0.14628 410.735 451.928)" font-size="100" font-weight="normal" fill="#444" font-family="'Liberation Sans',sans-serif" xml:space="preserve">[</text><text transform="matrix(0.15926 0 0 0.16957 424.541 454.300)" font-size="100" font-weight="bold" fill="#000" stroke="#000" stroke-width="0.2" vector-effect="non-scaling-stroke" stroke-linejoin="round" font-family="'Liberation Sans',sans-serif" xml:space="preserve">4</text><text transform="matrix(0.20238 0 0 0.14628 442.000 451.928)" font-size="100" font-weight="normal" fill="#444" font-family="'Liberation Sans',sans-serif" xml:space="preserve">]</text><text transform="matrix(0.18750 0 0 0.14628 758.688 451.928)" font-size="100" font-weight="normal" fill="#444" font-family="'Liberation Sans',sans-serif" xml:space="preserve">[</text><text transform="matrix(0.15926 0 0 0.16957 770.541 454.300)" font-size="100" font-weight="bold" fill="#000" stroke="#000" stroke-width="0.2" vector-effect="non-scaling-stroke" stroke-linejoin="round" font-family="'Liberation Sans',sans-serif" xml:space="preserve">4</text><text transform="matrix(0.20714 0 0 0.14628 789.400 451.928)" font-size="100" font-weight="normal" fill="#444" font-family="'Liberation Sans',sans-serif" xml:space="preserve">]</text><text transform="matrix(0.20500 0 0 0.15638 409.965 695.616)" font-size="100" font-weight="normal" fill="#444" font-family="'Liberation Sans',sans-serif" xml:space="preserve">[</text><text transform="matrix(0.16296 0 0 0.17391 424.337 698.800)" font-size="100" font-weight="bold" fill="#000" stroke="#000" stroke-width="0.2" vector-effect="non-scaling-stroke" stroke-linejoin="round" font-family="'Liberation Sans',sans-serif" xml:space="preserve">4</text><text transform="matrix(0.19524 0 0 0.15638 441.500 695.616)" font-size="100" font-weight="normal" fill="#444" font-family="'Liberation Sans',sans-serif" xml:space="preserve">]</text><text transform="matrix(0.17000 0 0 0.15106 757.910 694.928)" font-size="100" font-weight="normal" fill="#444" font-family="'Liberation Sans',sans-serif" xml:space="preserve">[</text><text transform="matrix(0.16296 0 0 0.17681 770.337 698.400)" font-size="100" font-weight="bold" fill="#000" stroke="#000" stroke-width="0.2" vector-effect="non-scaling-stroke" stroke-linejoin="round" font-family="'Liberation Sans',sans-serif" xml:space="preserve">4</text><text transform="matrix(0.16190 0 0 0.15106 789.100 694.928)" font-size="100" font-weight="normal" fill="#444" font-family="'Liberation Sans',sans-serif" xml:space="preserve">]</text><text transform="matrix(0.18750 0 0 0.15426 418.938 768.761)" font-size="100" font-weight="normal" fill="#444" font-family="'Liberation Sans',sans-serif" xml:space="preserve">[</text><text transform="matrix(0.15508 0 0 0.16884 432.695 771.150)" font-size="100" font-weight="bold" fill="#000" stroke="#000" stroke-width="0.2" vector-effect="non-scaling-stroke" stroke-linejoin="round" font-family="'Liberation Sans',sans-serif" xml:space="preserve">T</text><text transform="matrix(0.17857 0 0 0.15426 450.250 768.761)" font-size="100" font-weight="normal" fill="#444" font-family="'Liberation Sans',sans-serif" xml:space="preserve">]</text><text transform="matrix(0.15258 0 0 0.18571 714.600 463.900)" font-size="100" font-weight="bold" fill="#000" font-family="'Liberation Sans',sans-serif" letter-spacing="8" xml:space="preserve">W2</text><text transform="matrix(0.15391 0 0 0.17101 635.938 486.350)" font-size="100" font-weight="normal" fill="#111" stroke="#111" stroke-width="0.3" vector-effect="non-scaling-stroke" stroke-linejoin="round" font-family="'Liberation Sans',sans-serif" xml:space="preserve">XX</text><text transform="matrix(0.14904 0 0 0.18551 485.750 505.900)" font-size="100" font-weight="bold" fill="#000" font-family="'Liberation Sans',sans-serif" letter-spacing="8" xml:space="preserve">W1</text><text transform="matrix(0.15147 0 0 0.16479 566.494 532.235)" font-size="100" font-weight="bold" fill="#000" stroke="#000" stroke-width="0.2" vector-effect="non-scaling-stroke" stroke-linejoin="round" font-family="'Liberation Sans',sans-serif" xml:space="preserve">G</text><text transform="matrix(0.09583 0 0 0.15634 500.617 563.544)" font-size="100" font-weight="normal" fill="#333" font-family="'Liberation Sans',sans-serif" xml:space="preserve">0</text><text transform="matrix(0.09583 0 0 0.14859 500.617 623.651)" font-size="100" font-weight="normal" fill="#333" font-family="'Liberation Sans',sans-serif" xml:space="preserve">0</text><text transform="matrix(0.10208 0 0 0.15775 698.592 563.442)" font-size="100" font-weight="normal" fill="#333" font-family="'Liberation Sans',sans-serif" xml:space="preserve">0</text><text transform="matrix(0.10208 0 0 0.14859 698.592 623.651)" font-size="100" font-weight="normal" fill="#333" font-family="'Liberation Sans',sans-serif" xml:space="preserve">0</text><text transform="matrix(0.15000 0 0 0.18143 714.750 566.600)" font-size="100" font-weight="bold" fill="#000" font-family="'Liberation Sans',sans-serif" letter-spacing="8" xml:space="preserve">W2</text><text transform="matrix(0.16066 0 0 0.17101 591.836 602.800)" font-size="100" font-weight="bold" fill="#000" font-family="'Liberation Sans',sans-serif" letter-spacing="8" xml:space="preserve">P1</text><text transform="matrix(0.14961 0 0 0.16714 482.102 654.333)" font-size="100" font-weight="bold" fill="#000" font-family="'Liberation Sans',sans-serif" letter-spacing="8" xml:space="preserve">U1</text><text transform="matrix(0.15000 0 0 0.18478 700.800 654.750)" font-size="100" font-weight="bold" fill="#000" font-family="'Liberation Sans',sans-serif" letter-spacing="8" xml:space="preserve">A1</text><text transform="matrix(0.14959 0 0 0.17609 631.852 671.900)" font-size="100" font-weight="bold" fill="#000" font-family="'Liberation Sans',sans-serif" letter-spacing="8" xml:space="preserve">P1</text></g>
</svg>
</body></html>
